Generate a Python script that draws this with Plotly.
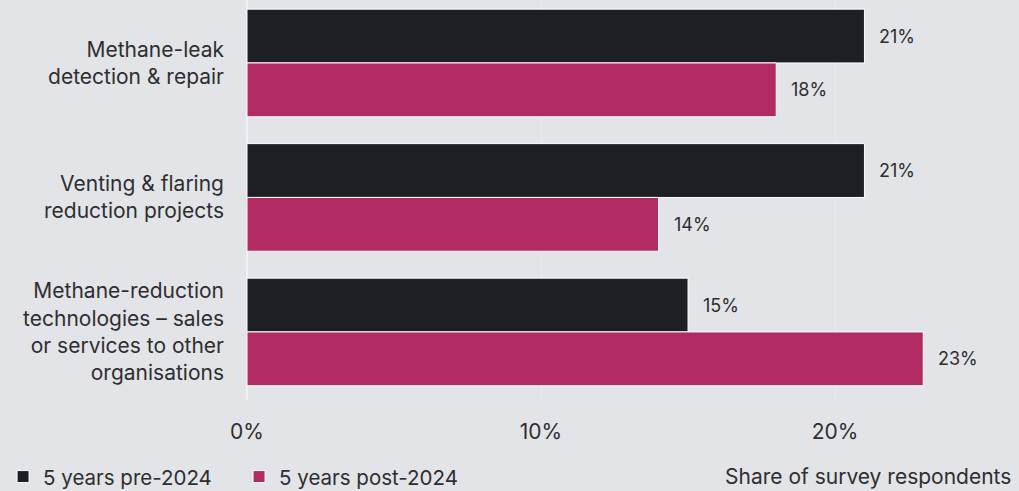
import plotly.graph_objects as go

# Survey categories (top to bottom) and shares in percent
categories = [
    "Methane-leak<br>detection & repair",
    "Venting & flaring<br>reduction projects",
    "Methane-reduction<br>technologies – sales<br>or services to other<br>organisations",
]
pre_2024 = [21, 21, 15]
post_2024 = [18, 14, 23]
series_names = ["5 years pre-2024", "5 years post-2024"]
x_ticks = [0, 10, 20]
x_tick_labels = ["0%", "10%", "20%"]

BG = "#e3e4e8"
DARK = "#1e1f24"
PINK = "#b22a62"
FONT = "Inter"
TEXT = "#2e2e30"

fig = go.Figure()
for name, vals, col in [(series_names[0], pre_2024, DARK), (series_names[1], post_2024, PINK)]:
    fig.add_trace(go.Bar(
        y=categories, x=vals, name=name, orientation="h",
        marker=dict(color=col, line=dict(color="#ffffff", width=1)),
        hoverinfo="skip",
    ))

# value labels just past the bar ends
offsets = [-0.2, 0.2]
for k, vals in enumerate([pre_2024, post_2024]):
    for i, v in enumerate(vals):
        fig.add_annotation(
            x=v, y=i + offsets[k], xref="x", yref="y", text=f"{v}%",
            showarrow=False, xanchor="left", xshift=13,
            font=dict(family=FONT, size=18, color=TEXT),
        )

fig.add_annotation(
    text="Share of survey respondents", xref="paper", yref="paper",
    x=1.031, y=-0.1925, xanchor="right", yanchor="middle", showarrow=False,
    font=dict(family=FONT, size=21, color=TEXT),
)

fig.update_layout(
    width=1019, height=491,
    margin=dict(l=247, r=29, t=0, b=91),
    paper_bgcolor=BG, plot_bgcolor=BG,
    barmode="group", bargap=0.2, bargroupgap=0,
    font=dict(family=FONT, size=18, color=TEXT),
    showlegend=True,
    legend=dict(
        orientation="h", xref="container", yref="container",
        x=0.003, y=0.029, xanchor="left", yanchor="middle",
        font=dict(family=FONT, size=20.5, color=TEXT),
        bgcolor="rgba(0,0,0,0)", itemwidth=30, tracegroupgap=0,
        entrywidth=191, entrywidthmode="pixels",
    ),
    xaxis=dict(
        range=[0, 25.27], tickvals=x_ticks, ticktext=x_tick_labels,
        showgrid=True, gridcolor="#eaebee", gridwidth=1,
        zeroline=True, zerolinecolor="#f0f1f3", zerolinewidth=2,
        ticks="", showline=False, ticklabelstandoff=17,
        tickfont=dict(family=FONT, size=21, color=TEXT),
    ),
    yaxis=dict(
        type="category", categoryarray=categories,
        range=[2.506, -0.468], showgrid=False, zeroline=False,
        ticks="", ticklabelstandoff=22,
        tickfont=dict(family=FONT, size=21, color=TEXT),
    ),
)

fig.write_html("out.html")
